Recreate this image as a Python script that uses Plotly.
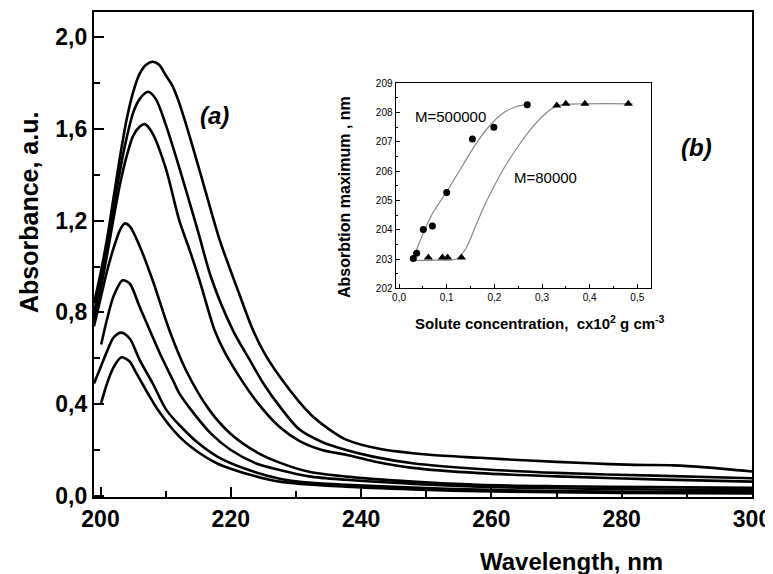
import plotly.graph_objects as go

# ---------------- main panel (a): absorbance spectra ----------------
wl_1 = [199.0, 200, 201, 202, 203, 204, 205, 206, 207, 208, 209, 210, 211, 212, 213.7,
        216, 218.3, 221.3, 223.4, 225, 227.5, 230.5, 232.6, 235.1, 237.7, 242.8, 250.5, 258.2,
        265, 275, 282, 288, 293, 300]
abs_1 = [0.84, 0.97, 1.12, 1.30, 1.48, 1.64, 1.76, 1.84, 1.88, 1.893, 1.88, 1.835, 1.79, 1.72, 1.566,
         1.34, 1.115, 0.88, 0.723, 0.63, 0.52, 0.41, 0.346, 0.29, 0.245, 0.205, 0.179, 0.166,
         0.155, 0.142, 0.135, 0.133, 0.124, 0.106]

wl_2 = [199.0, 200, 201, 202, 203, 204, 205, 206, 207.3, 208.5, 210, 212, 214.9, 217, 220.3, 222.9,
        225, 227.5, 230.5, 234, 237.7, 242, 247.9, 258.2, 270, 285, 300]
abs_2 = [0.80, 0.93, 1.08, 1.25, 1.42, 1.56, 1.67, 1.73, 1.762, 1.73, 1.62, 1.44, 1.16, 0.95, 0.723, 0.593,
         0.49, 0.39, 0.29, 0.235, 0.20, 0.17, 0.142, 0.117, 0.10, 0.088, 0.077]

wl_3 = [199.0, 200, 201, 202, 203, 204, 205, 206, 206.8, 208, 210, 212.1, 213.7, 215.2, 217.5, 219,
        221.3, 224, 227.5, 230.5, 234, 237.7, 242, 247.9, 258.2, 270, 285, 300]
abs_3 = [0.77, 0.90, 1.05, 1.21, 1.36, 1.48, 1.57, 1.61, 1.621, 1.58, 1.43, 1.20, 1.07, 0.94, 0.723, 0.63,
         0.52, 0.41, 0.30, 0.24, 0.20, 0.179, 0.15, 0.122, 0.099, 0.085, 0.072, 0.062]

wl_4 = [199.0, 200, 201, 202, 203, 203.7, 204.5, 206, 208, 210.6, 213.1, 216.7, 220, 224, 227.5,
        232, 237.7, 247.9, 258, 270, 285, 300]
abs_4 = [0.74, 0.86, 0.98, 1.08, 1.16, 1.188, 1.175, 1.09, 0.94, 0.72, 0.549, 0.375, 0.27, 0.19, 0.145,
         0.105, 0.084, 0.062, 0.048, 0.042, 0.038, 0.035]

wl_5 = [200.1, 201, 202, 203.4, 204.5, 206, 209.1, 211.1, 212.1, 213.9, 217, 220, 224, 227.5, 232,
        237.7, 248, 258, 270, 285, 300]
abs_5 = [0.66, 0.77, 0.87, 0.94, 0.925, 0.825, 0.622, 0.505, 0.447, 0.375, 0.27, 0.20, 0.14, 0.113, 0.085,
         0.07, 0.052, 0.04, 0.033, 0.028, 0.025]

wl_6 = [199.0, 200, 201, 202, 203.2, 204.5, 206, 208, 210.1, 212.1, 215, 218, 222, 227.5, 232,
        237.7, 248, 258, 270, 285, 300]
abs_6 = [0.49, 0.56, 0.63, 0.69, 0.712, 0.685, 0.593, 0.491, 0.375, 0.309, 0.23, 0.17, 0.12, 0.075, 0.058,
         0.048, 0.036, 0.027, 0.021, 0.017, 0.015]

wl_7 = [200.1, 201, 202, 203.2, 204.5, 205.5, 208.8, 212.1, 215, 218, 222, 227.5, 237.7, 248, 258, 280, 300]
abs_7 = [0.405, 0.49, 0.56, 0.604, 0.585, 0.535, 0.375, 0.258, 0.19, 0.14, 0.10, 0.062, 0.04, 0.028, 0.02,
         0.013, 0.01]

spectra = [(wl_1, abs_1), (wl_2, abs_2), (wl_3, abs_3), (wl_4, abs_4),
           (wl_5, abs_5), (wl_6, abs_6), (wl_7, abs_7)]

main_xticks = [200, 220, 240, 260, 280, 300]
main_yticks = [0.0, 0.4, 0.8, 1.2, 1.6, 2.0]

# ---------------- inset panel (b): absorption maximum vs concentration ----------------
conc_500k = [0.030, 0.037, 0.051, 0.070, 0.100, 0.154, 0.199, 0.269]
lmax_500k = [203.02, 203.2, 204.01, 204.13, 205.27, 207.1, 207.5, 208.27]

conc_80k = [0.0615, 0.091, 0.102, 0.131, 0.331, 0.350, 0.390, 0.481]
lmax_80k = [203.05, 203.05, 203.05, 203.05, 208.24, 208.3, 208.3, 208.3]

fit_500k_c = [0.030, 0.040, 0.050, 0.070, 0.100, 0.130, 0.160, 0.190, 0.220, 0.245, 0.270]
fit_500k_l = [203.0, 203.45, 203.85, 204.55, 205.3, 206.1, 206.9, 207.55, 208.0, 208.2, 208.27]

fit_80k_c = [0.031, 0.080, 0.120, 0.140, 0.160, 0.180, 0.200, 0.220, 0.250, 0.280, 0.310, 0.330, 0.350, 0.490]
fit_80k_l = [202.95, 202.96, 203.0, 203.35, 204.1, 204.85, 205.5, 206.1, 206.85, 207.5, 208.0, 208.22, 208.28, 208.3]

inset_xticks = [0.0, 0.1, 0.2, 0.3, 0.4, 0.5]
inset_yticks = [202, 203, 204, 205, 206, 207, 208, 209]

FONT = "Liberation Sans"

fig = go.Figure()

for wl, ab in spectra:
    fig.add_trace(go.Scatter(x=wl, y=ab, mode="lines",
                             line=dict(color="black", width=2.6, shape="spline", smoothing=0.8),
                             showlegend=False, hoverinfo="skip"))

fig.add_trace(go.Scatter(x=fit_500k_c, y=fit_500k_l, mode="lines", xaxis="x2", yaxis="y2",
                         line=dict(color="#8a8a8a", width=1.2, shape="spline", smoothing=0.8),
                         showlegend=False))
fig.add_trace(go.Scatter(x=fit_80k_c, y=fit_80k_l, mode="lines", xaxis="x2", yaxis="y2",
                         line=dict(color="#8a8a8a", width=1.2, shape="spline", smoothing=0.8),
                         showlegend=False))
fig.add_trace(go.Scatter(x=conc_500k, y=lmax_500k, mode="markers", xaxis="x2", yaxis="y2",
                         marker=dict(symbol="circle", size=7, color="black"), showlegend=False))
fig.add_trace(go.Scatter(x=conc_80k, y=lmax_80k, mode="markers", xaxis="x2", yaxis="y2",
                         marker=dict(symbol="triangle-up", size=8, color="black"), showlegend=False))

axis_common = dict(showgrid=False, zeroline=False, showline=True, linecolor="black",
                   mirror=True, ticks="inside", tickcolor="black", automargin=False)

# the page body adds an 8px offset, so the figure is 8px smaller than the window
fig.update_layout(
    width=765, height=566,
    margin=dict(l=86, r=21, t=4, b=77),
    paper_bgcolor="white", plot_bgcolor="white",
    separators=",.",
    font=dict(family=FONT, color="black"),
    xaxis=dict(**axis_common, range=[199.0, 300.0], tickvals=main_xticks, linewidth=2.2,
               ticklen=10, tickwidth=2,
               minor=dict(dtick=10, tick0=200, ticklen=6, ticks="inside", tickcolor="black", tickwidth=2),
               tickfont=dict(family=FONT, size=23, weight="bold")),
    yaxis=dict(**axis_common, range=[-0.005, 2.11], tickvals=main_yticks, tickformat=".1f",
               linewidth=2.2, ticklen=10, tickwidth=2,
               minor=dict(dtick=0.2, tick0=0, ticklen=6, ticks="inside", tickcolor="black", tickwidth=2),
               tickfont=dict(family=FONT, size=23, weight="bold")),
    xaxis2=dict(**axis_common, domain=[0.4585, 0.846], anchor="y2", range=[-0.007, 0.528],
                tickvals=inset_xticks, tickformat=".1f", linewidth=1.3, ticklen=4, tickwidth=1,
                minor=dict(dtick=0.05, tick0=0, ticklen=2.5, ticks="inside", tickcolor="black"),
                tickfont=dict(family=FONT, size=10)),
    yaxis2=dict(**axis_common, domain=[0.4303, 0.853], anchor="x2", range=[202, 209],
                tickvals=inset_yticks, linewidth=1.3, ticklen=4, tickwidth=1,
                minor=dict(dtick=0.5, tick0=202, ticklen=2.5, ticks="inside", tickcolor="black"),
                tickfont=dict(family=FONT, size=10)),
)

ann = [
    dict(text="<b>Absorbance, a.u.</b>", x=-0.0988, y=0.5876, textangle=-90, size=25),
    dict(text="<b>Wavelength, nm</b>", x=0.725, y=-0.132, size=24),
    dict(text="<b><i>(a)</i></b>", x=0.1824, y=0.7876, size=24),
    dict(text="<b><i>(b)</i></b>", x=0.9149, y=0.7196, size=24),
    dict(text="<b>Absorbtion maximum , nm</b>", x=0.3815, y=0.6186, textangle=-90, size=16),
    dict(text="<b>Solute concentration,  cx10<sup>2</sup> g cm<sup>-3</sup></b>", x=0.6778, y=0.3608,
         size=15),
]
for a in ann:
    fig.add_annotation(xref="paper", yref="paper", showarrow=False, xanchor="center", yanchor="middle",
                       font=dict(family=FONT, color="black", size=a["size"]),
                       text=a["text"], x=a["x"], y=a["y"], textangle=a.get("textangle", 0))

fig.add_annotation(xref="x2", yref="y2", x=0.109, y=207.88, text="M=500000", showarrow=False,
                   font=dict(family=FONT, size=15, color="black"))
fig.add_annotation(xref="x2", yref="y2", x=0.308, y=205.8, text="M=80000", showarrow=False,
                   font=dict(family=FONT, size=15, color="black"))

fig.write_html("out.html")
